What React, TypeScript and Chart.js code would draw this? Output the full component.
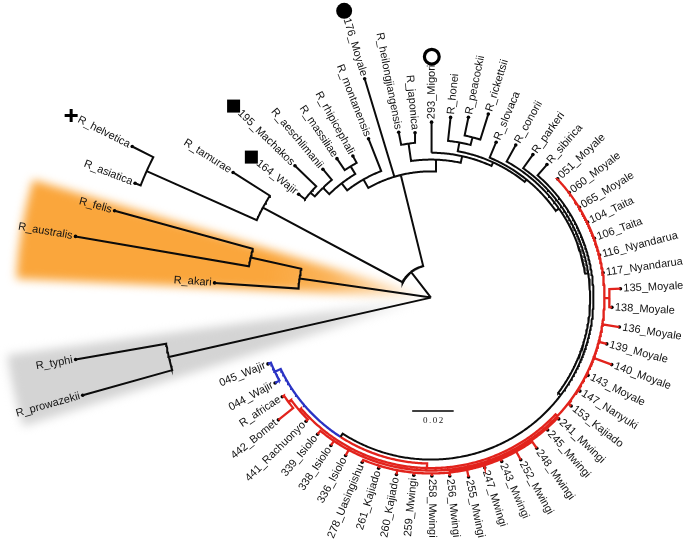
import React, { useEffect, useRef } from 'react';
import { Chart, registerables } from 'chart.js';

Chart.register(...registerables);

// ---------------- DATA ----------------
// Leaves in clockwise order: angle (degrees, counter-clockwise from east) and root-to-tip distance (subst./site)
const leafNames = [
  'R_akari', 'R_australis', 'R_felis', 'R_asiatica', 'R_helvetica', 'R_tamurae',
  '164_Wajir', '195_Machakos', 'R_aeschlimanii', 'R_massiliae', 'R_rhipicephali', 'R_montanensis',
  '176_Moyale', 'R_heilongjiangensis', 'R_japonica', '293_Migori', 'R_honei', 'R_peacockii',
  'R_rickettsii', 'R_slovaca', 'R_conorii', 'R_parkeri', 'R_sibirica',
  '051_Moyale', '060_Moyale', '065_Moyale', '104_Taita', '106_Taita', '116_Nyandarua', '117_Nyandarua',
  '135_Moyale', '138_Moyale', '136_Moyale', '139_Moyale', '140_Moyale', '143_Moyale', '147_Nanyuki',
  '153_Kajiado', '241_Mwingi', '245_Mwingi', '248_Mwingi', '252_Mwingi', '243_Mwingi', '247_Mwingi',
  '255_Mwingi', '256_Mwingi', '258_Mwingi', '259_Mwingi', '260_Kajiado', '261_Kajiado', '278_Uasingishu',
  '336_Isiolo', '338_Isiolo', '339_Isiolo', '441_Rachuonyo', '442_Bomet', 'R_africae',
  '044_Wajir', '045_Wajir', 'R_prowazekii', 'R_typhi',
];
const leafAngles = [
  176.1, 170.2, 164.6, 158.8, 153.1, 147.6,
  141.9, 135.8, 130.0, 124.0, 118.8, 111.4,
  106.8, 101.0, 95.5, 89.8, 83.8, 78.3,
  72.7, 67.3, 61.0, 54.6, 49.0,
  43.2, 37.3, 31.4, 25.8, 20.0, 14.2, 8.2,
  2.7, -3.1, -8.9, -14.8, -20.4, -26.4, -32.2,
  -37.8, -43.6, -48.7, -55.0, -61.1, -66.7, -72.5,
  -78.2, -84.0, -89.7, -95.5, -101.0, -107.0, -112.6,
  -118.3, -124.0, -129.6, -135.2, -141.2, -146.2,
  -151.2, -157.8, -164.3, -170.1,
];
const leafDepths = [
  0.1045, 0.1738, 0.1581, 0.1529, 0.1614, 0.1129,
  0.0810, 0.0914, 0.0810, 0.0810, 0.0781, 0.0824,
  0.1105, 0.0814, 0.0800, 0.0848, 0.0876, 0.0890,
  0.0929, 0.0814, 0.0843, 0.0848, 0.0852,
  0.0838, 0.0838, 0.0838, 0.0838, 0.0838, 0.0838, 0.0838,
  0.0914, 0.0873, 0.0919, 0.0876, 0.0929, 0.0845, 0.0848,
  0.0855, 0.0850, 0.0852, 0.0889, 0.0895, 0.0862, 0.0862,
  0.0886, 0.0867, 0.0862, 0.0862, 0.0871, 0.0862, 0.0862,
  0.0867, 0.0862, 0.0857, 0.0848, 0.0943, 0.0862,
  0.0857, 0.0848, 0.1743, 0.1738,
];

// Internal nodes: distance from root and ordered children
const nodeNames = [
  'root', 'O', 'AF', 'A', 'TG', 'HA', 'D', 'N5', 'N4', 'N2', 'N1', 'N3',
  'E', 'F', 'G', 'G2', 'H1', 'P', 'G3', 'G4', 'G5', 'G6', 'W', 'X', 'Z', 'Q', 'Z2', 'Z3',
  'Y', 'YA', 'WJ', 'T',
];
const nodeDepths = [
  0, 0.0640, 0.0890, 0.0157, 0.0919, 0.1500, 0.0610, 0.0657, 0.0700, 0.0743, 0.0771, 0.0743,
  0.0667, 0.0752, 0.0700, 0.0719, 0.0762, 0.0800, 0.0733, 0.0752, 0.0767, 0.0783, 0.0802, 0.0824,
  0.0836, 0.0860, 0.0843, 0.0850,
  0.0836, 0.0852, 0.0833, 0.1295,
];
const nodeChildren: string[][] = [
  ['O', 'A', 'T'],
  ['R_akari', 'AF'],
  ['R_australis', 'R_felis'],
  ['TG', 'D'],
  ['HA', 'R_tamurae'],
  ['R_asiatica', 'R_helvetica'],
  ['N5', '176_Moyale', 'E'],
  ['N4', 'R_montanensis'],
  ['N2', 'N3'],
  ['N1', 'R_aeschlimanii'],
  ['164_Wajir', '195_Machakos'],
  ['R_massiliae', 'R_rhipicephali'],
  ['F', 'G'],
  ['R_heilongjiangensis', 'R_japonica'],
  ['293_Migori', 'G2'],
  ['H1', 'G3'],
  ['R_honei', 'P'],
  ['R_peacockii', 'R_rickettsii'],
  ['R_slovaca', 'G4'],
  ['R_conorii', 'G5'],
  ['R_parkeri', 'G6'],
  ['R_sibirica', 'W'],
  ['X', 'WJ'],
  ['Z', 'Y'],
  ['051_Moyale', '060_Moyale', '065_Moyale', '104_Taita', '106_Taita', '116_Nyandarua', '117_Nyandarua',
    'Q', '136_Moyale', '139_Moyale', '140_Moyale', '143_Moyale', '147_Nanyuki', '153_Kajiado', 'Z2',
    '336_Isiolo', '338_Isiolo', '339_Isiolo'],
  ['135_Moyale', '138_Moyale'],
  ['241_Mwingi', '245_Mwingi', 'Z3'],
  ['248_Mwingi', '252_Mwingi', '243_Mwingi', '247_Mwingi', '255_Mwingi', '256_Mwingi', '258_Mwingi',
    '259_Mwingi', '260_Kajiado', '261_Kajiado', '278_Uasingishu'],
  ['441_Rachuonyo', 'YA'],
  ['442_Bomet', 'R_africae'],
  ['044_Wajir', '045_Wajir'],
  ['R_prowazekii', 'R_typhi'],
];

const scaleBarValue = 0.02;
const scaleBarLabel = '0.02';
const highlightNodes = ['O', 'T'];
const markerLeaves = ['R_helvetica', '176_Moyale', '293_Migori', '195_Machakos', '164_Wajir'];
const markerShapes = ['plus', 'disc', 'ring', 'square', 'square'];

// ---------------- STYLE / LAYOUT ----------------
const W = 685;
const H = 542;
const PX_PER_UNIT = 2100;
const ROOT_PX = { x: 432, y: 298 };
const X_MIN = -ROOT_PX.x / PX_PER_UNIT;
const X_MAX = (W - ROOT_PX.x) / PX_PER_UNIT;
const Y_MAX = ROOT_PX.y / PX_PER_UNIT;
const Y_MIN = -(H - ROOT_PX.y) / PX_PER_UNIT;
const BLACK = '#0b0b0b';
const cladeColors: Record<string, string> = { X: '#e2231c', WJ: '#2a33c4' };
const highlightStyle: Record<string, { rgb: number[]; pad: number[]; reach: number }> = {
  O: { rgb: [250, 166, 60], pad: [1.1, 1.3], reach: 0.2 },
  T: { rgb: [212, 212, 212], pad: [2.2, 1.8], reach: 0.206 },
};
const SCALE_BAR_AT = { x: -0.00905, y: -0.0548 };
const FONT = '11px "Liberation Sans", Arial, Helvetica, sans-serif';
const LABEL_GAP = 3;
const MARKER_GAP = 8;
const DEG = Math.PI / 180;

function polar(r: number, a: number) {
  return { x: r * Math.cos(a * DEG), y: r * Math.sin(a * DEG) };
}

function buildTree() {
  const depth: Record<string, number> = {};
  const angle: Record<string, number> = {};
  const children: Record<string, string[]> = {};
  const parent: Record<string, string> = {};
  leafNames.forEach((n, i) => {
    depth[n] = leafDepths[i];
    angle[n] = leafAngles[i];
  });
  nodeNames.forEach((n, i) => {
    depth[n] = nodeDepths[i];
    children[n] = nodeChildren[i];
    nodeChildren[i].forEach((c) => (parent[c] = n));
  });
  const ang = (n: string): number => {
    if (angle[n] !== undefined) return angle[n];
    const ch = children[n];
    angle[n] = (ang(ch[0]) + ang(ch[ch.length - 1])) / 2;
    return angle[n];
  };
  nodeNames.forEach(ang);
  const colorOf = (n: string): string =>
    cladeColors[n] ?? (parent[n] ? colorOf(parent[n]) : BLACK);
  const leavesUnder = (n: string): string[] =>
    children[n] ? children[n].flatMap(leavesUnder) : [n];
  return { depth, angle, children, parent, colorOf, leavesUnder };
}

function drawMarker(ctx: CanvasRenderingContext2D, shape: string, x: number, y: number) {
  ctx.save();
  ctx.fillStyle = '#000';
  ctx.strokeStyle = '#000';
  if (shape === 'plus') {
    ctx.lineWidth = 3;
    ctx.beginPath();
    ctx.moveTo(x - 6.5, y);
    ctx.lineTo(x + 6.5, y);
    ctx.moveTo(x, y - 6.5);
    ctx.lineTo(x, y + 6.5);
    ctx.stroke();
  } else if (shape === 'disc') {
    ctx.beginPath();
    ctx.arc(x, y, 8, 0, Math.PI * 2);
    ctx.fill();
  } else if (shape === 'ring') {
    ctx.lineWidth = 3.2;
    ctx.beginPath();
    ctx.arc(x, y, 7.4, 0, Math.PI * 2);
    ctx.stroke();
  } else {
    ctx.fillRect(x - 6.5, y - 6.5, 13, 13);
  }
  ctx.restore();
}

export default function App() {
  const ref = useRef<HTMLCanvasElement>(null);

  useEffect(() => {
    const canvas = ref.current;
    if (!canvas) return;
    const tree = buildTree();
    const { depth, angle, children, colorOf, leavesUnder } = tree;

    const byColor: Record<string, { x: number; y: number }[]> = {};
    nodeNames.forEach((p) => {
      const rp = depth[p];
      const ap = angle[p];
      children[p].forEach((c) => {
        const col = colorOf(c);
        const arr = (byColor[col] = byColor[col] || []);
        const ac = angle[c];
        const rc = depth[c];
        const steps = Math.max(1, Math.ceil(Math.abs(ac - ap) / 0.5));
        for (let k = 0; k <= steps; k++) arr.push(polar(rp, ap + ((ac - ap) * k) / steps));
        arr.push(polar(rc, ac));
        arr.push({ x: NaN, y: NaN });
      });
    });

    const datasets: any[] = Object.keys(byColor).map((col) => ({
      data: byColor[col],
      showLine: true,
      borderColor: col,
      backgroundColor: col,
      borderWidth: col === BLACK ? 2 : 2.3,
      pointRadius: 0,
      spanGaps: false,
      borderJoinStyle: 'miter',
    }));
    datasets.push({
      data: leafNames.map((n) => polar(depth[n], angle[n])),
      showLine: false,
      pointRadius: 1.8,
      pointBackgroundColor: '#000',
      pointBorderWidth: 0,
    });

    const wedgePlugin = {
      id: 'wedges',
      beforeDatasetsDraw(chart: any) {
        const ctx = chart.ctx as CanvasRenderingContext2D;
        const xs = chart.scales.x;
        const ys = chart.scales.y;
        const cx = xs.getPixelForValue(0);
        const cy = ys.getPixelForValue(0);
        highlightNodes.forEach((n) => {
          const st = highlightStyle[n];
          const angs = leavesUnder(n).map((l) => angle[l]);
          const a0 = Math.min(...angs) - st.pad[0];
          const a1 = Math.max(...angs) + st.pad[1];
          const rPx = xs.getPixelForValue(st.reach) - cx;
          const [r, g, b] = st.rgb;
          ctx.save();
          ctx.filter = 'blur(5px)';
          const grad = ctx.createRadialGradient(cx, cy, 0, cx, cy, rPx);
          grad.addColorStop(0, `rgba(${r},${g},${b},0)`);
          grad.addColorStop(0.06, `rgba(${r},${g},${b},0.25)`);
          grad.addColorStop(0.25, `rgba(${r},${g},${b},0.85)`);
          grad.addColorStop(0.4, `rgba(${r},${g},${b},1)`);
          grad.addColorStop(1, `rgba(${r},${g},${b},1)`);
          ctx.fillStyle = grad;
          ctx.beginPath();
          ctx.moveTo(cx, cy);
          ctx.arc(cx, cy, rPx, -a0 * DEG, -a1 * DEG, true);
          ctx.closePath();
          ctx.fill();
          ctx.restore();
        });
      },
    };

    const labelPlugin = {
      id: 'labels',
      afterDatasetsDraw(chart: any) {
        const ctx = chart.ctx as CanvasRenderingContext2D;
        const xs = chart.scales.x;
        const ys = chart.scales.y;
        ctx.save();
        ctx.font = FONT;
        ctx.fillStyle = '#111';
        ctx.textBaseline = 'middle';
        leafNames.forEach((n) => {
          const a = angle[n];
          const p = polar(depth[n], a);
          const X = xs.getPixelForValue(p.x);
          const Y = ys.getPixelForValue(p.y);
          const right = Math.cos(a * DEG) >= 0;
          ctx.save();
          ctx.translate(X, Y);
          if (right) {
            ctx.rotate(-a * DEG);
            ctx.textAlign = 'left';
            ctx.fillText(n, LABEL_GAP, 0);
          } else {
            ctx.rotate(-(a - 180) * DEG);
            ctx.textAlign = 'right';
            ctx.fillText(n, -LABEL_GAP, 0);
          }
          ctx.restore();
          const mi = markerLeaves.indexOf(n);
          if (mi >= 0) {
            const w = ctx.measureText(n).width;
            const off = LABEL_GAP + w + MARKER_GAP;
            const mx = X + Math.cos(a * DEG) * off;
            const my = Y - Math.sin(a * DEG) * off;
            drawMarker(ctx, markerShapes[mi], mx, my);
          }
        });
        // scale bar
        const sx0 = xs.getPixelForValue(SCALE_BAR_AT.x);
        const sx1 = xs.getPixelForValue(SCALE_BAR_AT.x + scaleBarValue);
        const sy = ys.getPixelForValue(SCALE_BAR_AT.y);
        ctx.strokeStyle = '#000';
        ctx.lineWidth = 1.5;
        ctx.beginPath();
        ctx.moveTo(sx0, sy);
        ctx.lineTo(sx1, sy);
        ctx.stroke();
        ctx.font = '9px "Liberation Serif", "DejaVu Serif", serif';
        (ctx as any).letterSpacing = '1.5px';
        ctx.textAlign = 'center';
        ctx.fillStyle = '#222';
        ctx.fillText(scaleBarLabel, (sx0 + sx1) / 2 + 1, sy + 10);
        ctx.restore();
      },
    };

    const chart = new Chart(canvas, {
      type: 'scatter',
      data: { datasets },
      options: {
        responsive: false,
        animation: false,
        devicePixelRatio: 1,
        events: [],
        layout: { padding: 0 },
        plugins: {
          legend: { display: false },
          tooltip: { enabled: false },
          title: { display: false },
        },
        scales: {
          x: { type: 'linear', display: false, min: X_MIN, max: X_MAX },
          y: { type: 'linear', display: false, min: Y_MIN, max: Y_MAX },
        },
      },
      plugins: [wedgePlugin, labelPlugin],
    } as any);
    return () => chart.destroy();
  }, []);

  return (
    <div style={{ position: 'fixed', left: 0, top: 0, width: W, height: H, background: '#fff' }}>
      <canvas ref={ref} width={W} height={H} style={{ display: 'block', width: W, height: H }} />
    </div>
  );
}
